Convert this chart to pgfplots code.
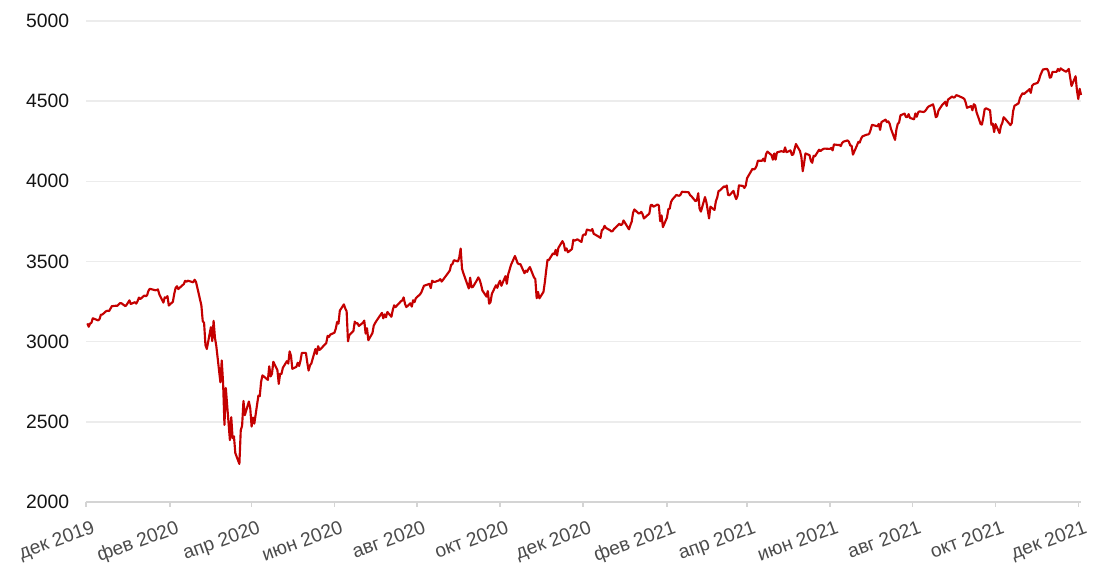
\documentclass[border=0pt]{standalone}
\usepackage{fontspec}
\setmainfont{Liberation Sans}
\usepackage{pgfplots}
\pgfplotsset{compat=1.18}
\usepgfplotslibrary{dateplot}
\definecolor{linered}{RGB}{196,0,0}
\definecolor{gridc}{RGB}{236,236,236}
\definecolor{axc}{RGB}{212,212,212}
\definecolor{lblc}{RGB}{75,75,75}
\definecolor{ylblc}{RGB}{20,20,20}
\pgfplotstableread{
date close
2019-12-02 3113.87
2019-12-03 3093.20
2019-12-04 3112.76
2019-12-05 3117.43
2019-12-06 3145.91
2019-12-09 3135.96
2019-12-10 3132.52
2019-12-11 3141.63
2019-12-12 3168.57
2019-12-13 3168.80
2019-12-16 3191.45
2019-12-17 3192.52
2019-12-18 3191.14
2019-12-19 3205.37
2019-12-20 3221.22
2019-12-23 3224.01
2019-12-24 3223.38
2019-12-26 3239.91
2019-12-27 3240.02
2019-12-30 3221.29
2019-12-31 3230.78
2020-01-02 3257.85
2020-01-03 3234.85
2020-01-06 3246.28
2020-01-07 3237.18
2020-01-08 3253.05
2020-01-09 3274.70
2020-01-10 3265.35
2020-01-13 3288.13
2020-01-14 3283.15
2020-01-15 3289.29
2020-01-16 3316.81
2020-01-17 3329.62
2020-01-21 3320.79
2020-01-22 3321.75
2020-01-23 3325.54
2020-01-24 3295.47
2020-01-27 3243.63
2020-01-28 3276.24
2020-01-29 3273.40
2020-01-30 3283.66
2020-01-31 3225.52
2020-02-03 3248.92
2020-02-04 3297.59
2020-02-05 3334.69
2020-02-06 3345.78
2020-02-07 3327.71
2020-02-10 3352.09
2020-02-11 3357.75
2020-02-12 3379.45
2020-02-13 3373.94
2020-02-14 3380.16
2020-02-18 3370.29
2020-02-19 3386.15
2020-02-20 3373.23
2020-02-21 3337.75
2020-02-24 3225.89
2020-02-25 3128.21
2020-02-26 3116.39
2020-02-27 2978.76
2020-02-28 2954.22
2020-03-02 3090.23
2020-03-03 3003.37
2020-03-04 3130.12
2020-03-05 3023.94
2020-03-06 2972.37
2020-03-09 2746.56
2020-03-10 2882.23
2020-03-11 2741.38
2020-03-12 2480.64
2020-03-13 2711.02
2020-03-16 2386.13
2020-03-17 2529.19
2020-03-18 2398.10
2020-03-19 2409.39
2020-03-20 2304.92
2020-03-23 2237.40
2020-03-24 2447.33
2020-03-25 2475.56
2020-03-26 2630.07
2020-03-27 2541.47
2020-03-30 2626.65
2020-03-31 2584.59
2020-04-01 2470.50
2020-04-02 2526.90
2020-04-03 2488.65
2020-04-06 2663.68
2020-04-07 2659.41
2020-04-08 2749.98
2020-04-09 2789.82
2020-04-13 2761.63
2020-04-14 2846.06
2020-04-15 2783.36
2020-04-16 2799.55
2020-04-17 2874.56
2020-04-20 2823.16
2020-04-21 2736.56
2020-04-22 2799.31
2020-04-23 2797.80
2020-04-24 2836.74
2020-04-27 2878.48
2020-04-28 2863.39
2020-04-29 2939.51
2020-04-30 2912.43
2020-05-01 2830.71
2020-05-04 2842.74
2020-05-05 2868.44
2020-05-06 2848.42
2020-05-07 2881.19
2020-05-08 2929.80
2020-05-11 2930.32
2020-05-12 2870.12
2020-05-13 2820.00
2020-05-14 2852.50
2020-05-15 2863.70
2020-05-18 2953.91
2020-05-19 2922.94
2020-05-20 2971.61
2020-05-21 2948.51
2020-05-22 2955.45
2020-05-26 2991.77
2020-05-27 3036.13
2020-05-28 3029.73
2020-05-29 3044.31
2020-06-01 3055.73
2020-06-02 3080.82
2020-06-03 3122.87
2020-06-04 3112.35
2020-06-05 3193.93
2020-06-08 3232.39
2020-06-09 3207.18
2020-06-10 3190.14
2020-06-11 3002.10
2020-06-12 3041.31
2020-06-15 3066.59
2020-06-16 3124.74
2020-06-17 3113.49
2020-06-18 3115.34
2020-06-19 3097.74
2020-06-22 3117.86
2020-06-23 3131.29
2020-06-24 3050.33
2020-06-25 3083.76
2020-06-26 3009.05
2020-06-29 3053.24
2020-06-30 3100.29
2020-07-01 3115.86
2020-07-02 3130.01
2020-07-06 3179.72
2020-07-07 3145.32
2020-07-08 3169.94
2020-07-09 3152.05
2020-07-10 3185.04
2020-07-13 3155.22
2020-07-14 3197.52
2020-07-15 3226.56
2020-07-16 3215.57
2020-07-17 3224.73
2020-07-20 3251.84
2020-07-21 3257.30
2020-07-22 3276.02
2020-07-23 3235.66
2020-07-24 3215.63
2020-07-27 3239.41
2020-07-28 3218.44
2020-07-29 3258.44
2020-07-30 3246.22
2020-07-31 3271.12
2020-08-03 3294.61
2020-08-04 3306.51
2020-08-05 3327.77
2020-08-06 3349.16
2020-08-07 3351.28
2020-08-10 3360.47
2020-08-11 3333.69
2020-08-12 3380.35
2020-08-13 3373.43
2020-08-14 3372.85
2020-08-17 3381.99
2020-08-18 3389.78
2020-08-19 3374.85
2020-08-20 3385.51
2020-08-21 3397.16
2020-08-24 3431.28
2020-08-25 3443.62
2020-08-26 3478.73
2020-08-27 3484.55
2020-08-28 3508.01
2020-08-31 3500.31
2020-09-01 3526.65
2020-09-02 3580.84
2020-09-03 3455.06
2020-09-04 3426.96
2020-09-08 3331.84
2020-09-09 3398.96
2020-09-10 3339.19
2020-09-11 3340.97
2020-09-14 3383.54
2020-09-15 3401.20
2020-09-16 3385.49
2020-09-17 3357.01
2020-09-18 3319.47
2020-09-21 3281.06
2020-09-22 3315.57
2020-09-23 3236.92
2020-09-24 3246.59
2020-09-25 3298.46
2020-09-28 3351.60
2020-09-29 3335.47
2020-09-30 3363.00
2020-10-01 3380.80
2020-10-02 3348.42
2020-10-05 3408.60
2020-10-06 3360.97
2020-10-07 3419.44
2020-10-08 3446.83
2020-10-09 3477.14
2020-10-12 3534.22
2020-10-13 3511.93
2020-10-14 3488.67
2020-10-15 3483.34
2020-10-16 3483.81
2020-10-19 3426.92
2020-10-20 3443.12
2020-10-21 3435.56
2020-10-22 3453.49
2020-10-23 3465.39
2020-10-26 3400.97
2020-10-27 3390.68
2020-10-28 3271.03
2020-10-29 3310.11
2020-10-30 3269.96
2020-11-02 3310.24
2020-11-03 3369.16
2020-11-04 3443.44
2020-11-05 3510.45
2020-11-06 3509.44
2020-11-09 3550.50
2020-11-10 3545.53
2020-11-11 3572.66
2020-11-12 3537.01
2020-11-13 3585.15
2020-11-16 3626.91
2020-11-17 3609.53
2020-11-18 3567.79
2020-11-19 3581.87
2020-11-20 3557.54
2020-11-23 3577.59
2020-11-24 3635.41
2020-11-25 3629.65
2020-11-27 3638.35
2020-11-30 3621.63
2020-12-01 3662.45
2020-12-02 3669.01
2020-12-03 3666.72
2020-12-04 3699.12
2020-12-07 3691.96
2020-12-08 3702.25
2020-12-09 3672.82
2020-12-10 3668.10
2020-12-11 3663.46
2020-12-14 3647.49
2020-12-15 3694.62
2020-12-16 3701.17
2020-12-17 3722.48
2020-12-18 3709.41
2020-12-21 3694.92
2020-12-22 3687.26
2020-12-23 3690.01
2020-12-24 3703.06
2020-12-28 3735.36
2020-12-29 3727.04
2020-12-30 3732.04
2020-12-31 3756.07
2021-01-04 3700.65
2021-01-05 3726.86
2021-01-06 3748.14
2021-01-07 3803.79
2021-01-08 3824.68
2021-01-11 3799.61
2021-01-12 3801.19
2021-01-13 3809.84
2021-01-14 3795.54
2021-01-15 3768.25
2021-01-19 3798.91
2021-01-20 3851.85
2021-01-21 3853.07
2021-01-22 3841.47
2021-01-25 3855.36
2021-01-26 3849.62
2021-01-27 3750.77
2021-01-28 3787.38
2021-01-29 3714.24
2021-02-01 3773.86
2021-02-02 3826.31
2021-02-03 3830.17
2021-02-04 3871.74
2021-02-05 3886.83
2021-02-08 3915.59
2021-02-09 3911.23
2021-02-10 3909.88
2021-02-11 3916.38
2021-02-12 3934.83
2021-02-16 3932.59
2021-02-17 3931.33
2021-02-18 3913.97
2021-02-19 3906.71
2021-02-22 3876.50
2021-02-23 3881.37
2021-02-24 3925.43
2021-02-25 3829.34
2021-02-26 3811.15
2021-03-01 3901.82
2021-03-02 3870.29
2021-03-03 3819.72
2021-03-04 3768.47
2021-03-05 3841.94
2021-03-08 3821.35
2021-03-09 3875.44
2021-03-10 3898.81
2021-03-11 3939.34
2021-03-12 3943.34
2021-03-15 3968.94
2021-03-16 3962.71
2021-03-17 3974.12
2021-03-18 3915.46
2021-03-19 3913.10
2021-03-22 3940.59
2021-03-23 3910.52
2021-03-24 3889.14
2021-03-25 3909.52
2021-03-26 3974.54
2021-03-29 3971.09
2021-03-30 3958.55
2021-03-31 3972.89
2021-04-01 4019.87
2021-04-05 4077.91
2021-04-06 4073.94
2021-04-07 4079.95
2021-04-08 4097.17
2021-04-09 4128.80
2021-04-12 4127.99
2021-04-13 4141.59
2021-04-14 4124.66
2021-04-15 4170.42
2021-04-16 4185.47
2021-04-19 4163.26
2021-04-20 4134.94
2021-04-21 4173.42
2021-04-22 4134.98
2021-04-23 4180.17
2021-04-26 4187.62
2021-04-27 4186.72
2021-04-28 4183.18
2021-04-29 4211.47
2021-04-30 4181.17
2021-05-03 4192.66
2021-05-04 4164.66
2021-05-05 4167.59
2021-05-06 4201.62
2021-05-07 4232.60
2021-05-10 4188.43
2021-05-11 4152.10
2021-05-12 4063.04
2021-05-13 4112.50
2021-05-14 4173.85
2021-05-17 4163.29
2021-05-18 4127.83
2021-05-19 4115.68
2021-05-20 4159.12
2021-05-21 4155.86
2021-05-24 4197.05
2021-05-25 4188.13
2021-05-26 4195.99
2021-05-27 4200.88
2021-05-28 4204.11
2021-06-01 4202.04
2021-06-02 4208.12
2021-06-03 4192.85
2021-06-04 4229.89
2021-06-07 4226.52
2021-06-08 4227.26
2021-06-09 4219.55
2021-06-10 4239.18
2021-06-11 4247.44
2021-06-14 4255.15
2021-06-15 4246.59
2021-06-16 4223.70
2021-06-17 4221.86
2021-06-18 4166.45
2021-06-21 4224.79
2021-06-22 4246.44
2021-06-23 4241.84
2021-06-24 4266.49
2021-06-25 4280.70
2021-06-28 4290.61
2021-06-29 4291.80
2021-06-30 4297.50
2021-07-01 4319.94
2021-07-02 4352.34
2021-07-06 4343.54
2021-07-07 4358.13
2021-07-08 4320.82
2021-07-09 4369.55
2021-07-12 4384.63
2021-07-13 4369.21
2021-07-14 4374.30
2021-07-15 4360.03
2021-07-16 4327.16
2021-07-19 4258.49
2021-07-20 4323.06
2021-07-21 4358.69
2021-07-22 4367.48
2021-07-23 4411.79
2021-07-26 4422.30
2021-07-27 4401.46
2021-07-28 4400.64
2021-07-29 4419.15
2021-07-30 4395.26
2021-08-02 4387.16
2021-08-03 4423.15
2021-08-04 4402.66
2021-08-05 4429.10
2021-08-06 4436.52
2021-08-09 4432.35
2021-08-10 4436.75
2021-08-11 4447.70
2021-08-12 4460.83
2021-08-13 4468.00
2021-08-16 4479.71
2021-08-17 4448.08
2021-08-18 4400.27
2021-08-19 4405.80
2021-08-20 4441.67
2021-08-23 4479.53
2021-08-24 4486.23
2021-08-25 4496.19
2021-08-26 4470.00
2021-08-27 4509.37
2021-08-30 4528.79
2021-08-31 4522.68
2021-09-01 4524.09
2021-09-02 4536.95
2021-09-03 4535.43
2021-09-07 4520.03
2021-09-08 4514.07
2021-09-09 4493.28
2021-09-10 4458.58
2021-09-13 4468.73
2021-09-14 4443.05
2021-09-15 4480.70
2021-09-16 4473.75
2021-09-17 4432.99
2021-09-20 4357.73
2021-09-21 4354.19
2021-09-22 4395.64
2021-09-23 4448.98
2021-09-24 4455.48
2021-09-27 4443.11
2021-09-28 4352.63
2021-09-29 4359.46
2021-09-30 4307.54
2021-10-01 4357.04
2021-10-04 4300.46
2021-10-05 4345.72
2021-10-06 4363.55
2021-10-07 4399.76
2021-10-08 4391.34
2021-10-11 4361.19
2021-10-12 4350.65
2021-10-13 4363.80
2021-10-14 4438.26
2021-10-15 4471.37
2021-10-18 4486.46
2021-10-19 4519.63
2021-10-20 4536.19
2021-10-21 4549.78
2021-10-22 4544.90
2021-10-25 4566.48
2021-10-26 4574.79
2021-10-27 4551.68
2021-10-28 4596.42
2021-10-29 4605.38
2021-11-01 4613.67
2021-11-02 4630.65
2021-11-03 4660.57
2021-11-04 4680.06
2021-11-05 4697.53
2021-11-08 4701.70
2021-11-09 4685.25
2021-11-10 4646.71
2021-11-11 4649.27
2021-11-12 4682.85
2021-11-15 4682.80
2021-11-16 4700.90
2021-11-17 4688.67
2021-11-18 4704.54
2021-11-19 4697.96
2021-11-22 4682.94
2021-11-23 4690.70
2021-11-24 4701.46
2021-11-26 4594.62
2021-11-29 4655.27
2021-11-30 4567.00
2021-12-01 4513.04
2021-12-02 4577.10
2021-12-03 4538.43
}\spx
\begin{document}
\begin{tikzpicture}
\path (0,0) rectangle (825pt,438pt);
\begin{axis}[
  at={(64.5pt,61.5pt)}, anchor=south west,
  scale only axis, width=746.25pt, height=360.75pt,
  date coordinates in=x, date ZERO=2019-12-01,
  xmin=2019-12-01, xmax=2021-12-03,
  ymin=2000, ymax=5000,
  xtick={2019-12-01,2020-02-01,2020-04-01,2020-06-01,2020-08-01,2020-10-01,2020-12-01,2021-02-01,2021-04-01,2021-06-01,2021-08-01,2021-10-01,2021-12-01},
  xticklabels={дек 2019,фев 2020,апр 2020,июн 2020,авг 2020,окт 2020,дек 2020,фев 2021,апр 2021,июн 2021,авг 2021,окт 2021,дек 2021},
  ytick={2000,2500,3000,3500,4000,4500,5000},
  /pgf/number format/assume math mode=true,
  /pgf/number format/1000 sep={},
  axis x line*=bottom, axis y line*=left,
  y axis line style={draw=none},
  x axis line style={draw=axc, line width=1.5pt, -},
  xtick align=outside, major tick length=3.75pt,
  xtick style={draw=axc, line width=1.2pt},
  ytick style={draw=none},
  ymajorgrids=true,
  grid style={draw=gridc, line width=1.2pt},
  yticklabel style={font=\fontsize{14.5}{17}\selectfont, text=ylblc, anchor=east, inner sep=0pt, xshift=-12.5pt},
  xticklabel style={font=\fontsize{14.5}{17}\selectfont, text=lblc, rotate=20, anchor=north east, inner sep=0pt, yshift=-10pt, xshift=0.5pt},
  clip=false,
]
\addplot[linered, line width=1.6pt, line join=round] table[x=date, y=close] {\spx};
\end{axis}
\end{tikzpicture}
\end{document}
